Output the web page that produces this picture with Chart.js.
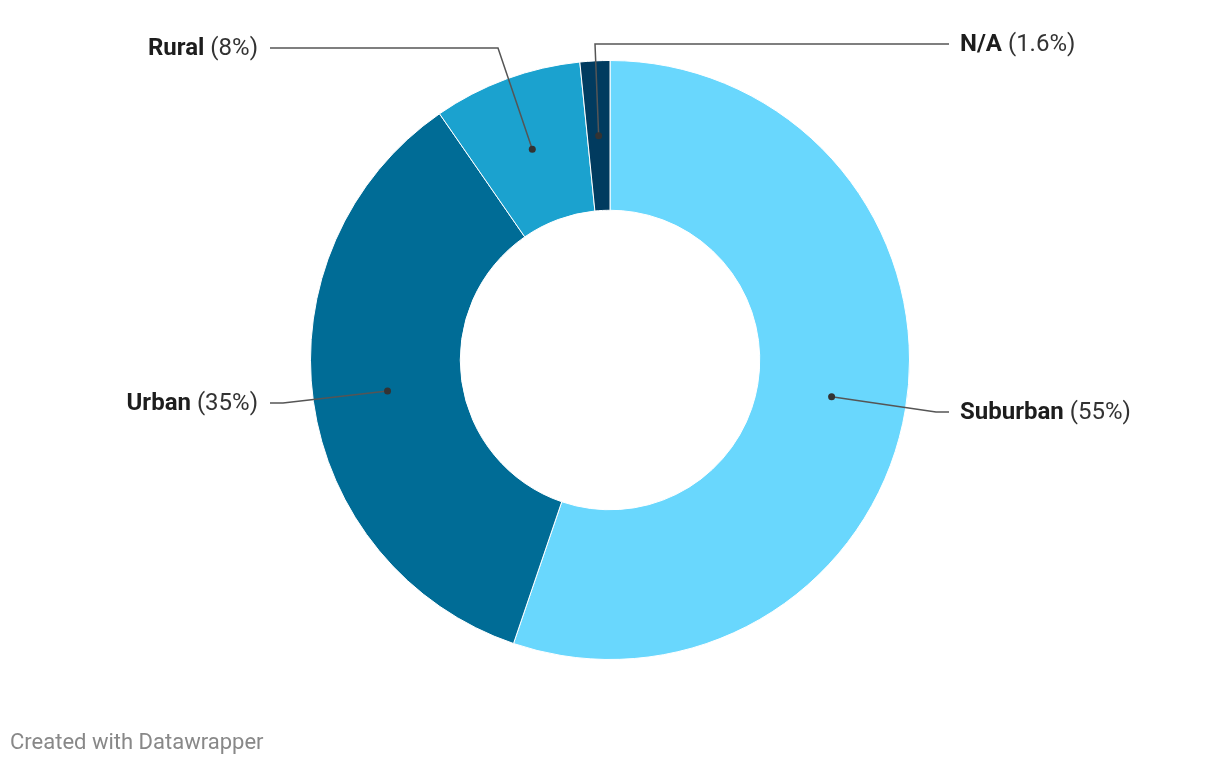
<!DOCTYPE html>
<html>
<head>
<meta charset="utf-8">
<script src="https://cdn.jsdelivr.net/npm/chart.js@4/dist/chart.umd.min.js"></script>
<style>
	html, body { margin: 0; padding: 0; background: #fff; }
	#wrap { position: relative; width: 1220px; height: 766px; }
	#footer { position: absolute; left: 10px; top: 729px; font-family: Roboto, sans-serif; font-size: 22px; line-height: 26px; color: #888; }
</style>
</head>
<body>
<div id="wrap">
	<canvas id="donut" width="1220" height="766"></canvas>
	<div id="footer">Created with Datawrapper</div>
</div>
<script>
"use strict";

const categories = ["Suburban", "Urban", "Rural", "N/A"];
const shares = [55, 35, 8, 1.6];
const shareLabels = ["55%", "35%", "8%", "1.6%"];
const colors = ["#69d7fd", "#006c96", "#1ba2cf", "#013b5f"];

// leader line layout: elbow point, end of horizontal run, label side
const callouts = [
	{ elbow: [936, 412], end: [949, 412], side: "right" },
	{ elbow: [283, 403], end: [270, 403], side: "left" },
	{ elbow: [498, 48], end: [270, 48], side: "left" },
	{ elbow: [595, 44], end: [949, 44], side: "right" }
];

const calloutPlugin = {
	id: "callouts",
	afterDatasetsDraw(chart){
		const ctx = chart.ctx;
		const arcs = chart.getDatasetMeta(0).data;
		ctx.save();
		arcs.forEach((arc, i) => {
			const mid = (arc.startAngle + arc.endAngle) / 2;
			const r = (arc.innerRadius + arc.outerRadius) / 2;
			const dx = arc.x + Math.cos(mid) * r;
			const dy = arc.y + Math.sin(mid) * r;
			const c = callouts[i];

			ctx.strokeStyle = "#555";
			ctx.lineWidth = 1.5;
			ctx.beginPath();
			ctx.moveTo(dx, dy);
			ctx.lineTo(c.elbow[0], c.elbow[1]);
			ctx.lineTo(c.end[0], c.end[1]);
			ctx.stroke();

			ctx.fillStyle = "#333";
			ctx.beginPath();
			ctx.arc(dx, dy, 3.5, 0, Math.PI * 2);
			ctx.fill();

			const name = categories[i];
			const pct = " (" + shareLabels[i] + ")";
			ctx.textBaseline = "middle";
			ctx.font = "bold 24px Roboto";
			const wName = ctx.measureText(name).width;
			ctx.font = "24px Roboto";
			const wPct = ctx.measureText(pct).width;
			let x = c.side === "right" ? c.end[0] + 11 : c.end[0] - 12 - wName - wPct;
			const y = c.end[1] + 1;
			ctx.textAlign = "left";
			ctx.font = "bold 24px Roboto";
			ctx.fillStyle = "#1d1d1d";
			ctx.fillText(name, x, y);
			ctx.font = "24px Roboto";
			ctx.fillStyle = "#333";
			ctx.fillText(pct, x + wName, y);
		});
		ctx.restore();
	}
};

new Chart(document.querySelector("#donut").getContext("2d"), {
	type: "doughnut",
	data: {
		labels: categories,
		datasets: [{
			data: shares,
			backgroundColor: colors,
			borderColor: "#ffffff",
			borderWidth: 1
		}]
	},
	options: {
		responsive: false,
		animation: false,
		cutout: "50%",
		layout: { padding: { top: 60, bottom: 106 } },
		plugins: {
			legend: { display: false },
			tooltip: { enabled: false }
		}
	},
	plugins: [calloutPlugin]
});
</script>
</body>
</html>
